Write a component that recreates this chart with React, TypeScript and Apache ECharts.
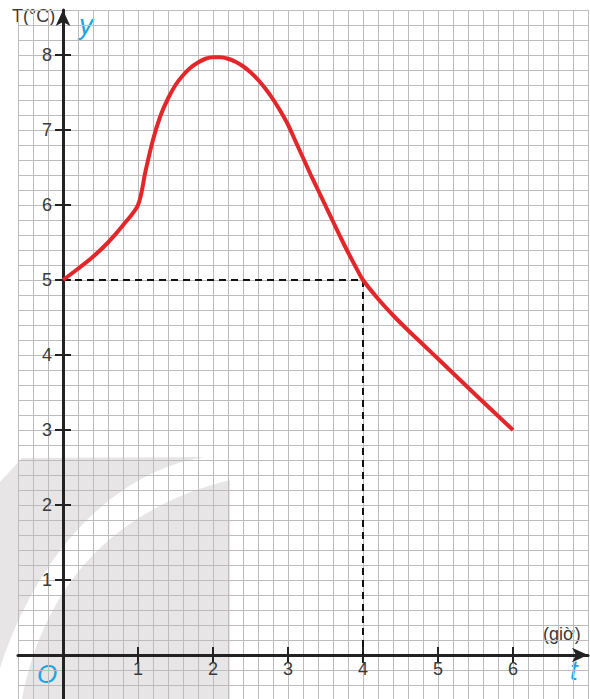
import React, { useEffect, useRef } from "react";
import * as echarts from "echarts";

// Temperature curve T(t)
const timeHours = [0, 0.2, 0.4, 0.6, 0.8, 1, 1.1, 1.2, 1.3, 1.4, 1.5, 1.6, 1.7, 1.8, 1.9, 2, 2.1, 2.2, 2.3, 2.4, 2.5, 2.6, 2.7, 2.8, 2.9, 3, 3.1, 3.2, 3.3, 3.4, 3.5, 3.6, 3.7, 3.8, 3.9, 4, 4.2, 4.4, 4.6, 4.8, 5, 5.5, 6];
const tempValues = [5, 5.15, 5.31, 5.5, 5.73, 6, 6.45, 6.87, 7.19, 7.42, 7.6, 7.73, 7.83, 7.9, 7.95, 7.97, 7.97, 7.95, 7.91, 7.85, 7.77, 7.67, 7.55, 7.41, 7.25, 7.07, 6.85, 6.63, 6.41, 6.2, 5.99, 5.78, 5.57, 5.37, 5.18, 5, 4.75, 4.53, 4.33, 4.14, 3.95, 3.47, 3];

// Dashed guide through (4, 5)
const guideX = [0, 4, 4];
const guideY = [5, 5, 0];

const xTickLabels = [1, 2, 3, 4, 5, 6];
const yTickLabels = [1, 2, 3, 4, 5, 6, 7, 8];

const WATERMARK_D =
  "M0 482 L22 458 L205 457 C120 470 40 545 0 668 Z " +
  "M230 480 L230 700 L22 700 C38 615 88 515 230 480 Z";
echarts.graphic.registerShape("wmark", echarts.graphic.extendPath(WATERMARK_D, {}));

const AXIS_COLOR = "#222222";
const LABEL_COLOR = "#3a3a3a";
const CYAN = "#1ca6df";
const FONT = "Liberation Sans";

const X_MIN = -0.6;
const X_MAX = 7;
const Y_MIN = -0.6;
const Y_MAX = 8.6;

export default function App() {
  const ref = useRef<HTMLDivElement>(null);

  useEffect(() => {
    if (!ref.current) return;
    const chart = echarts.init(ref.current, null, { renderer: "svg" });
    const curve = timeHours.map((t, i) => [t, tempValues[i]]);
    const guide = guideX.map((x, i) => [x, guideY[i]]);

    const gridAxis = (pos: string) => ({
      type: "value",
      gridIndex: 0,
      min: pos === "bottom" ? X_MIN : Y_MIN,
      max: pos === "bottom" ? X_MAX : Y_MAX,
      interval: 0.2,
      position: pos,
      axisLine: { show: false, onZero: true },
      axisLabel: { show: false },
      axisTick: { show: false },
      splitLine: { show: true, lineStyle: { color: "#bcbcbc", width: 1 } },
    });
    const mainAxis = (pos: string, vals: number[]) => ({
      type: "value",
      gridIndex: 0,
      min: pos === "bottom" ? X_MIN : Y_MIN,
      max: pos === "bottom" ? X_MAX : Y_MAX,
      position: pos,
      axisLine: {
        show: true,
        onZero: true,
        symbol: ["none", "arrow"],
        symbolSize: [11, 16],
        lineStyle: { color: AXIS_COLOR, width: 3 },
      },
      axisTick: {
        show: true,
        length: 8,
        customValues: vals,
        lineStyle: { color: AXIS_COLOR, width: 2 },
      },
      axisLabel: { show: false },
      splitLine: { show: false },
    });
    const innerTickAxis = (pos: string, vals: number[]) => ({
      type: "value",
      gridIndex: 0,
      min: pos === "bottom" ? X_MIN : Y_MIN,
      max: pos === "bottom" ? X_MAX : Y_MAX,
      position: pos,
      axisLine: { show: false, onZero: true },
      axisLabel: { show: false },
      axisTick: {
        show: true,
        inside: true,
        length: 8,
        customValues: vals,
        lineStyle: { color: AXIS_COLOR, width: 2 },
      },
      splitLine: { show: false },
    });
    // label axes live in a second grid whose edges coincide with the zero lines
    const labelAxis = (pos: string, vals: number[], margin: number) => ({
      type: "value",
      gridIndex: 1,
      min: 0,
      max: pos === "bottom" ? X_MAX : Y_MAX,
      position: pos,
      axisLine: { show: false, onZero: false },
      axisTick: { show: false },
      axisLabel: {
        show: true,
        customValues: vals,
        margin,
        fontSize: 18,
        color: LABEL_COLOR,
        fontFamily: FONT,
      },
      splitLine: { show: false },
    });

    chart.setOption({
      animation: false,
      grid: [
        { left: 18, top: 10, width: 570, height: 690, containLabel: false, outerBoundsMode: "none" },
        { left: 63, top: 10, width: 525, height: 645, containLabel: false, outerBoundsMode: "none" },
      ],
      xAxis: [
        gridAxis("bottom"),
        mainAxis("bottom", xTickLabels),
        innerTickAxis("bottom", xTickLabels),
        labelAxis("bottom", xTickLabels, 5),
      ],
      yAxis: [
        gridAxis("left"),
        mainAxis("left", yTickLabels),
        innerTickAxis("left", yTickLabels),
        labelAxis("left", yTickLabels, 11),
      ],
      graphic: [
        {
          type: "wmark",
          x: 0,
          y: 0,
          z: -10,
          silent: true,
          style: { fill: "rgba(170,160,160,0.28)" },
        },
        {
          type: "text",
          left: 12,
          top: 7,
          style: { text: "T(°C)", font: `18px "${FONT}"`, fill: LABEL_COLOR },
        },
        {
          type: "text",
          left: 79,
          top: 10,
          style: { text: "y", font: `italic 28px "${FONT}"`, fill: CYAN },
        },
        {
          type: "text",
          left: 543,
          top: 625,
          style: { text: "(giờ)", font: `18px "${FONT}"`, fill: LABEL_COLOR },
        },
        {
          type: "text",
          left: 570,
          top: 656,
          style: { text: "t", font: `italic 28px "${FONT}"`, fill: CYAN },
        },
        {
          type: "text",
          left: 37,
          top: 661,
          style: { text: "O", font: `italic 26px "${FONT}"`, fill: CYAN },
        },
      ],
      series: [
        {
          type: "line",
          xAxisIndex: 1,
          yAxisIndex: 1,
          data: guide,
          symbol: "none",
          lineStyle: { color: "#111", width: 2, type: [7, 5] },
          z: 3,
        },
        {
          type: "line",
          xAxisIndex: 1,
          yAxisIndex: 1,
          data: curve,
          symbol: "none",
          smooth: 0.3,
          lineStyle: { color: "#e3262a", width: 4 },
          z: 4,
        },
      ],
    });

    return () => chart.dispose();
  }, []);

  return (
    <div
      ref={ref}
      style={{ position: "fixed", left: 0, top: 0, width: 590, height: 699, background: "#fff" }}
    />
  );
}
